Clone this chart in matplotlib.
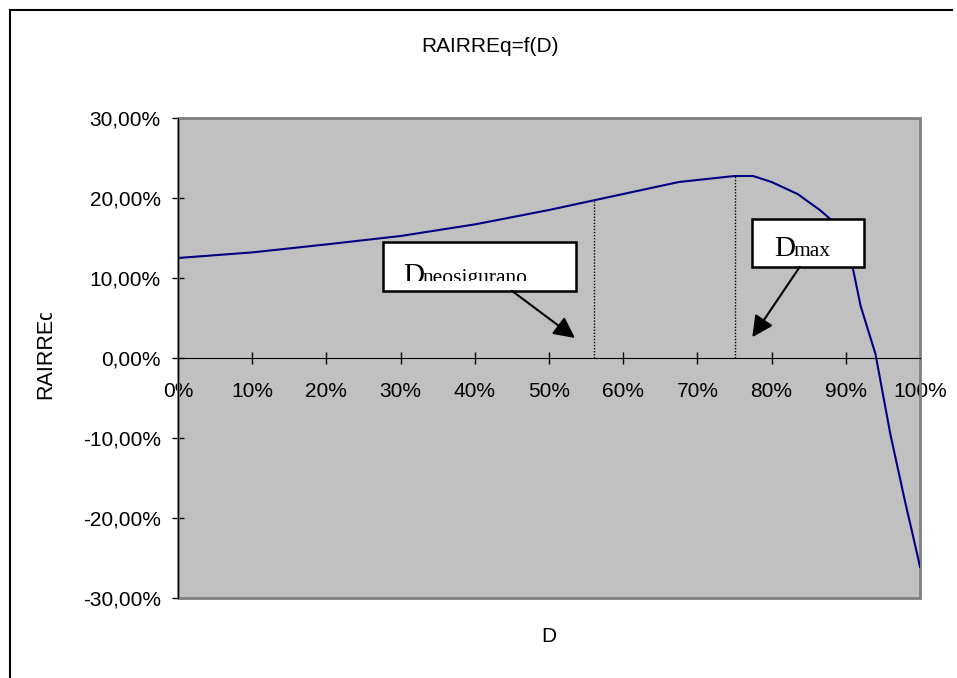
import matplotlib
matplotlib.use('Agg')
import matplotlib.pyplot as plt
import numpy as np
from matplotlib.lines import Line2D
from matplotlib.patches import Rectangle
from matplotlib.transforms import Bbox, TransformedBbox
from matplotlib.ticker import FuncFormatter, MultipleLocator

# data (D in %, RAIRREq in %)
d_vals = [0, 10, 20, 30, 40, 50, 60, 67.5, 75, 77.5, 80, 83.5, 86.5, 88,
          90, 91, 92, 94, 96, 98, 99, 100]
rairre = [12.5, 13.2, 14.2, 15.25, 16.7, 18.5, 20.5, 22.0, 22.75, 22.75, 22.0,
          20.5, 18.5, 17.3, 13.5, 11.0, 6.5, 0.5, -9.5, -18.0, -22.0, -26.1]

# marked points
d_neosigurano = 56.0
d_max = 75.0

title = 'RAIRREq=f(D)'
xlabel = 'D'
ylabel = 'RAIRREq'

plt.rcParams['font.family'] = ['Liberation Sans', 'DejaVu Sans']

W, H = 957, 678
fig = plt.figure(figsize=(W / 100, H / 100), dpi=100)
ax = fig.add_axes([178 / W, 1 - 598 / H, (920 - 178) / W, (598 - 118) / H])
ax.set_facecolor('#c0c0c0')

ax.plot(d_vals, rairre, color='#000080', lw=1.5, zorder=3)

ax.set_xlim(0, 100)
ax.set_ylim(-30, 30)
ax.xaxis.set_major_locator(MultipleLocator(10))
ax.yaxis.set_major_locator(MultipleLocator(10))
ax.xaxis.set_major_formatter(FuncFormatter(lambda v, p: '%d%%' % round(v)))
ax.yaxis.set_major_formatter(
    FuncFormatter(lambda v, p: ('%.2f%%' % v).replace('.', ',')))

for s in ['top', 'right']:
    ax.spines[s].set_visible(False)
ax.spines['bottom'].set_position(('data', 0))
ax.spines['bottom'].set_zorder(4)
ax.spines['left'].set_zorder(4)
ax.add_patch(Rectangle((0, 0), 1, 1, transform=ax.transAxes, fill=False,
                       ec='#808080', lw=2, zorder=2, clip_on=False))

ax.tick_params(axis='both', direction='inout', length=8, width=1,
               labelsize=15, colors='black')
ax.tick_params(axis='y', pad=8.5)
ax.tick_params(axis='x', pad=13)

# dotted lines down from the curve
for dv in [d_neosigurano, d_max]:
    yv = np.interp(dv, d_vals, rairre)
    ax.plot([dv, dv], [0, yv], color='black', ls=(0, (1, 1.2)), lw=1, zorder=2)


def label_box(x0, y0, x1, y1, big, small, tx, ty, clip_y, arrow_from, arrow_to):
    ax.add_patch(Rectangle((x0, y0), x1 - x0, y1 - y0, fc='white',
                           ec='black', lw=1.8, zorder=5))
    clip = TransformedBbox(Bbox([[x0, clip_y], [x1, y1]]), ax.transData)
    t1 = ax.text(tx, ty, big, fontsize=21, family='Liberation Serif',
                 ha='left', va='baseline', zorder=6)
    t1.set_clip_box(clip)
    t1.set_clip_on(True)
    fig.canvas.draw()
    bb = t1.get_window_extent()
    x_end = ax.transData.inverted().transform((bb.x1, 0))[0]
    t2 = ax.text(x_end - 0.3, ty, small, fontsize=15.5,
                 family='Liberation Serif', ha='left', va='baseline', zorder=6)
    t2.set_clip_box(clip)
    t2.set_clip_on(True)
    ax.annotate('', xy=arrow_to, xytext=arrow_from,
                arrowprops=dict(arrowstyle='-|>', color='black', lw=1.5,
                                mutation_scale=32, shrinkA=0, shrinkB=0),
                zorder=6)


label_box(27.6, 8.4, 53.6, 14.5, 'D', 'neosigurano', 30.4, 9.4, 9.6,
          (45.0, 8.4), (53.5, 2.5))
label_box(77.4, 11.4, 92.5, 17.4, 'D', 'max', 80.4, 12.7, 12.5,
          (83.8, 11.4), (77.4, 2.6))

fig.text(490 / W, 1 - 46 / H, title, fontsize=15, ha='center', va='center')
fig.text(549 / W, 1 - 637 / H, xlabel, fontsize=15, ha='center', va='center')
yl = fig.text(46 / W, 1 - 352 / H, ylabel, fontsize=15.5, rotation=90,
              ha='center', va='center')
yl.set_clip_box(Bbox([[0, 0], [W, H - 313]]))
yl.set_clip_on(True)

# outer chart frame
fig.add_artist(Line2D([10 / W, 952 / W], [1 - 10 / H, 1 - 10 / H],
                      transform=fig.transFigure, color='black', lw=1.5))
fig.add_artist(Line2D([10 / W, 10 / W], [1 - 10 / H, 0],
                      transform=fig.transFigure, color='black', lw=1.5))

fig.savefig('out.png', dpi=100)
